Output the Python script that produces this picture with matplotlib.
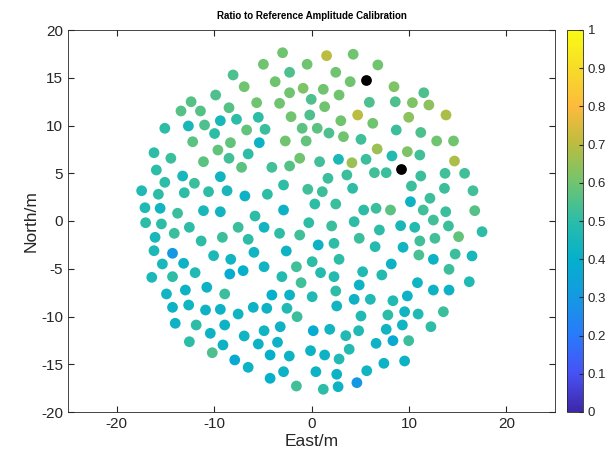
import matplotlib
matplotlib.use("Agg")
import matplotlib.pyplot as plt
import numpy as np
from matplotlib.colors import LinearSegmentedColormap

plt.rcParams['font.family'] = ['Liberation Sans', 'DejaVu Sans']
plt.rcParams['axes.unicode_minus'] = False

# antenna positions (m) and amplitude ratio
east = [-8.05, -6.91, -9.84, -12.36, -13.40, -11.40, -8.47, -15.06, -12.64, -10.98,
        -9.36, -7.70, -6.66, -9.95, -2.97, 1.55, 4.28, -4.94, -0.45, -2.25,
        2.49, -3.73, 3.97, -5.63, -3.28, -2.25, -0.86, 1.21, -0.03, 1.35,
        2.83, 5.94, -5.46, -2.10, -0.18, 4.74, 3.01, -4.77, -0.96, 0.59,
        1.79, 6.81, 8.47, 11.53, 8.60, 10.36, 12.05, 9.98, 13.81, 6.29,
        8.70, 11.22, -12.20, -9.61, -8.32, -6.50, -16.17, -14.44, -11.09, -8.47,
        -7.18, -15.93, -13.23, -9.36, -15.06, -12.02, -17.44, -15.72, -13.06, -10.57,
        -8.67, -6.84, -17.10, -15.54, -13.75, -11.09, -9.36, 3.28, 5.08, -5.36,
        -2.69, -0.55, -1.21, -2.25, 0.83, 2.77, 4.15, 5.60, -4.07, 1.69,
        3.63, 6.46, -2.87, -0.38, 1.11, 4.22, -4.53, 0.34, 2.49, 5.36,
        -2.87, -5.80, 12.85, 14.58, 6.74, 9.84, 8.26, 11.12, 14.68, 7.67,
        11.22, 13.71, 15.72, 10.26, 13.65, 16.58, 12.16, 10.16, 6.63, 8.11,
        11.47, 13.78, 16.76, -17.03, -15.41, -12.54, -16.06, -14.09, -11.33, -9.15,
        -7.53, -6.50, -16.17, -14.27, -15.31, -13.13, -10.05, -8.29, -16.40, -14.27,
        -11.95, -8.39, -7.02, -14.89, -12.95, -10.75, -8.91, -14.27, -12.61, -10.88,
        -9.36, -7.53, -13.99, -11.84, -8.91, -10.39, -6.91, -12.54, -9.09, -10.19,
        -7.88, -6.50, -4.87, -3.28, -1.21, -0.28, 2.07, 4.38, -5.91, -2.59,
        0.69, 2.31, 4.90, -4.87, -1.55, 0.07, 2.83, -3.04, 0.93, 2.31,
        5.25, -1.07, -4.07, -2.25, 0.07, 2.49, 4.90, 4.38, 6.04, -5.98,
        -4.59, -2.52, 2.59, 6.97, 9.15, 10.60, 12.51, 14.06, 15.10, 17.51,
        6.53, 9.40, 11.12, 12.67, 11.02, 12.51, 14.75, 16.48, 8.19, 14.12,
        7.22, 10.88, 12.51, 14.12, 16.20, 8.36, 9.84, -1.48, 5.08, -4.87,
        -3.21, 0.18, 1.87, 3.52, 4.84, -5.46, -3.49, -0.10, 1.35, 2.83,
        3.87, -4.25, -2.28, -2.87, 0.45, 2.59, 5.67, -4.25, -1.55, 1.21,
        2.73, 4.66, 7.84, 9.56, 10.95, 13.54, 7.67, 9.33, 12.26, 6.63,
        8.36, 9.98, 7.43, 9.56]
north = [15.29, 14.06, 13.19, 12.49, 11.52, 11.52, 11.86, 9.71, 9.95, 10.05,
         10.50, 10.65, 9.53, 9.16, 17.62, 17.31, 17.46, 16.41, 16.41, 15.57,
         15.57, 14.59, 14.59, 12.39, 12.32, 13.43, 13.90, 13.79, 12.74, 11.97,
         13.19, 12.43, 10.86, 10.92, 11.10, 11.10, 10.50, 9.60, 9.71, 9.71,
         9.21, 16.34, 14.06, 13.43, 12.49, 12.39, 12.15, 10.86, 11.10, 10.23,
         9.53, 9.27, 8.30, 7.43, 8.20, 7.02, 7.15, 6.57, 6.21, 6.57,
         5.62, 5.34, 4.71, 4.64, 4.05, 3.95, 3.17, 2.80, 2.96, 3.07,
         3.17, 2.62, 1.39, 1.33, 0.81, 1.08, 0.97, 8.83, 8.55, 8.20,
         8.38, 8.38, 6.57, 5.76, 6.21, 6.46, 6.10, 6.46, 5.62, 4.47,
         4.82, 5.06, 3.77, 3.32, 3.07, 3.42, 2.80, 1.78, 1.78, 1.15,
         1.15, 0.52, 8.38, 8.38, 7.54, 7.26, 6.81, 6.91, 6.28, 5.06,
         4.71, 4.99, 4.99, 3.66, 3.42, 3.17, 2.38, 2.02, 1.33, 1.15,
         1.15, 0.97, 1.08, -0.18, -0.31, -0.66, -1.71, -1.29, -2.09, -1.71,
         -0.66, -1.92, -3.11, -3.38, -4.50, -4.43, -3.63, -4.01, -5.90, -5.83,
         -5.41, -5.55, -5.20, -7.64, -7.23, -6.94, -7.64, -9.04, -8.80, -9.32,
         -9.25, -9.74, -10.71, -10.89, -10.89, -11.76, -12.04, -12.64, -12.98, -13.79,
         -14.55, -15.32, -0.66, -1.29, -1.47, -0.18, -0.52, -0.07, -3.28, -3.14,
         -2.51, -2.34, -1.81, -4.79, -4.79, -4.26, -4.01, -5.83, -5.41, -5.83,
         -5.31, -6.46, -7.75, -7.75, -7.93, -7.33, -6.70, -8.20, -8.20, -9.04,
         -9.14, -9.14, -8.90, -0.94, -0.49, -0.66, 0.10, -0.52, -1.64, -1.12,
         -2.69, -2.75, -2.09, -1.81, -3.56, -4.01, -3.46, -3.66, -4.50, -5.06,
         -5.65, -6.46, -7.23, -7.23, -6.36, -8.35, -7.85, -10.02, -9.95, -11.49,
         -11.07, -11.49, -11.34, -12.01, -11.49, -12.88, -12.70, -13.58, -14.03, -14.45,
         -13.43, -14.03, -14.14, -15.78, -15.78, -16.05, -15.68, -16.47, -17.28, -17.62,
         -17.35, -16.93, -9.84, -9.50, -9.74, -9.50, -11.34, -10.89, -11.07, -12.81,
         -12.53, -12.53, -14.90, -14.66]
ratio = [0.55, 0.60, 0.55, 0.56, 0.56, 0.56, 0.56, 0.50, 0.45, 0.55,
         0.45, 0.50, 0.58, 0.50, 0.60, 0.70, 0.60, 0.60, 0.60, 0.55,
         0.60, 0.60, 0.60, 0.60, 0.60, 0.60, 0.62, 0.60, 0.55, 0.60,
         0.60, 0.55, 0.50, 0.60, 0.55, 0.70, 0.60, 0.52, 0.57, 0.57,
         0.55, 0.60, 0.62, 0.55, 0.55, 0.62, 0.64, 0.64, 0.68, 0.60,
         0.52, 0.55, 0.57, 0.58, 0.58, 0.50, 0.50, 0.52, 0.57, 0.53,
         0.57, 0.50, 0.45, 0.43, 0.50, 0.52, 0.47, 0.50, 0.50, 0.50,
         0.45, 0.42, 0.47, 0.43, 0.52, 0.45, 0.43, 0.60, 0.53, 0.42,
         0.60, 0.58, 0.60, 0.56, 0.53, 0.46, 0.66, 0.52, 0.53, 0.52,
         0.52, 0.53, 0.50, 0.53, 0.52, 0.50, 0.50, 0.50, 0.52, 0.50,
         0.42, 0.50, 0.60, 0.60, 0.66, 0.62, 0.48, 0.53, 0.68, 0.52,
         0.52, 0.53, 0.53, 0.52, 0.52, 0.53, 0.52, 0.42, 0.52, 0.57,
         0.53, 0.52, 0.56, 0.50, 0.50, 0.50, 0.45, 0.52, 0.50, 0.52,
         0.52, 0.50, 0.46, 0.30, 0.45, 0.42, 0.46, 0.43, 0.46, 0.50,
         0.47, 0.38, 0.40, 0.43, 0.42, 0.42, 0.52, 0.42, 0.43, 0.42,
         0.42, 0.43, 0.42, 0.50, 0.42, 0.42, 0.43, 0.50, 0.42, 0.55,
         0.37, 0.42, 0.43, 0.50, 0.53, 0.50, 0.52, 0.50, 0.43, 0.42,
         0.42, 0.50, 0.52, 0.43, 0.53, 0.50, 0.50, 0.48, 0.48, 0.48,
         0.47, 0.53, 0.40, 0.42, 0.47, 0.50, 0.42, 0.42, 0.47, 0.42,
         0.42, 0.47, 0.43, 0.50, 0.45, 0.48, 0.53, 0.52, 0.58, 0.50,
         0.48, 0.43, 0.53, 0.53, 0.54, 0.42, 0.52, 0.45, 0.42, 0.52,
         0.48, 0.43, 0.42, 0.42, 0.47, 0.47, 0.42, 0.52, 0.47, 0.43,
         0.42, 0.38, 0.43, 0.47, 0.47, 0.42, 0.42, 0.42, 0.42, 0.47,
         0.48, 0.40, 0.42, 0.42, 0.42, 0.42, 0.43, 0.40, 0.53, 0.50,
         0.42, 0.30, 0.50, 0.43, 0.47, 0.52, 0.43, 0.43, 0.50, 0.42,
         0.37, 0.52, 0.42, 0.42]

# reference antennas drawn in black
ref_east = [5.60, 9.15]
ref_north = [14.76, 5.41]

# approximate MATLAB parula
parula = LinearSegmentedColormap.from_list("parula", [
    (0.0, (0.243, 0.150, 0.660)),
    (0.1, (0.280, 0.320, 0.960)),
    (0.2, (0.160, 0.480, 0.990)),
    (0.3, (0.080, 0.600, 0.890)),
    (0.4, (0.020, 0.690, 0.800)),
    (0.5, (0.170, 0.740, 0.660)),
    (0.6, (0.440, 0.770, 0.440)),
    (0.7, (0.730, 0.740, 0.250)),
    (0.8, (0.990, 0.730, 0.240)),
    (0.9, (0.970, 0.860, 0.160)),
    (1.0, (0.977, 0.984, 0.080)),
])

fig = plt.figure(figsize=(6.15, 4.67), dpi=100)
ax = fig.add_axes([68 / 615, 55 / 467, 487 / 615, 382 / 467])
cax = fig.add_axes([567 / 615, 55 / 467, 16 / 615, 382 / 467])

sc = ax.scatter(east, north, c=ratio, cmap=parula, vmin=0, vmax=1, s=60, linewidths=0)
ax.scatter(ref_east, ref_north, color="k", s=60, linewidths=0)

ax.set_xlim(-25, 25)
ax.set_ylim(-20, 20)
ax.set_xticks([-20, -10, 0, 10, 20])
ax.set_yticks(np.arange(-20, 21, 5))
dark = (0.15, 0.15, 0.15)
ax.tick_params(direction="in", top=True, right=True, labelsize=11, colors=dark, length=4)
for s in ax.spines.values():
    s.set_color(dark)
    s.set_linewidth(0.6)
ax.set_xlabel("East/m", fontsize=12.5, color=dark, labelpad=2)
ax.set_ylabel("North/m", fontsize=12.5, color=dark, labelpad=2)
ax.set_title("Ratio to Reference Amplitude Calibration", fontsize=7, fontweight="bold", pad=8)

cb = fig.colorbar(sc, cax=cax, ticks=np.arange(0, 1.01, 0.1))
cb.ax.set_yticklabels(["0", "0.1", "0.2", "0.3", "0.4", "0.5", "0.6", "0.7", "0.8", "0.9", "1"])
cb.ax.tick_params(direction="in", labelsize=9.5, colors=dark, length=3)
cb.outline.set_linewidth(0.6)
cb.outline.set_edgecolor(dark)

fig.savefig("out.png", dpi=100)
